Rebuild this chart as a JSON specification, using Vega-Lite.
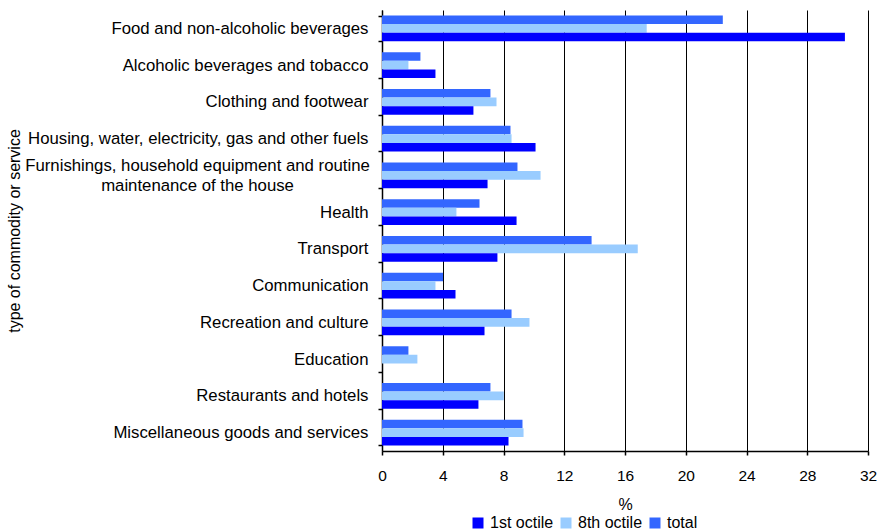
{
  "$schema": "https://vega.github.io/schema/vega-lite/v6.json",
  "width": 486,
  "height": 441,
  "autosize": "none",
  "padding": {"left": 382, "top": 10, "right": 12, "bottom": 79},
  "background": "white",
  "config": {
    "font": "Liberation Sans",
    "view": {"stroke": null},
    "axis": {
      "titleFontWeight": "normal",
      "labelColor": "black",
      "titleColor": "black",
      "domainColor": "black",
      "tickColor": "black",
      "domainWidth": 1.5,
      "tickWidth": 1.5
    }
  },
  "data": {
    "values": [
      {"category": "Food and non-alcoholic beverages", "series": "total", "value": 22.44},
      {"category": "Food and non-alcoholic beverages", "series": "8th octile", "value": 17.43},
      {"category": "Food and non-alcoholic beverages", "series": "1st octile", "value": 30.48},
      {"category": "Alcoholic beverages and tobacco", "series": "total", "value": 2.53},
      {"category": "Alcoholic beverages and tobacco", "series": "8th octile", "value": 1.74},
      {"category": "Alcoholic beverages and tobacco", "series": "1st octile", "value": 3.52},
      {"category": "Clothing and footwear", "series": "total", "value": 7.14},
      {"category": "Clothing and footwear", "series": "8th octile", "value": 7.54},
      {"category": "Clothing and footwear", "series": "1st octile", "value": 6.02},
      {"category": "Housing, water, electricity, gas and other fuels", "series": "total", "value": 8.46},
      {"category": "Housing, water, electricity, gas and other fuels", "series": "8th octile", "value": 8.53},
      {"category": "Housing, water, electricity, gas and other fuels", "series": "1st octile", "value": 10.11},
      {"category": "Furnishings, household equipment and routine maintenance of the house", "series": "total", "value": 8.92},
      {"category": "Furnishings, household equipment and routine maintenance of the house", "series": "8th octile", "value": 10.44},
      {"category": "Furnishings, household equipment and routine maintenance of the house", "series": "1st octile", "value": 6.95},
      {"category": "Health", "series": "total", "value": 6.42},
      {"category": "Health", "series": "8th octile", "value": 4.90},
      {"category": "Health", "series": "1st octile", "value": 8.86},
      {"category": "Transport", "series": "total", "value": 13.80},
      {"category": "Transport", "series": "8th octile", "value": 16.84},
      {"category": "Transport", "series": "1st octile", "value": 7.60},
      {"category": "Communication", "series": "total", "value": 4.02},
      {"category": "Communication", "series": "8th octile", "value": 3.52},
      {"category": "Communication", "series": "1st octile", "value": 4.84},
      {"category": "Recreation and culture", "series": "total", "value": 8.53},
      {"category": "Recreation and culture", "series": "8th octile", "value": 9.71},
      {"category": "Recreation and culture", "series": "1st octile", "value": 6.75},
      {"category": "Education", "series": "total", "value": 1.74},
      {"category": "Education", "series": "8th octile", "value": 2.33},
      {"category": "Restaurants and hotels", "series": "total", "value": 7.14},
      {"category": "Restaurants and hotels", "series": "8th octile", "value": 8.02},
      {"category": "Restaurants and hotels", "series": "1st octile", "value": 6.35},
      {"category": "Miscellaneous goods and services", "series": "total", "value": 9.25},
      {"category": "Miscellaneous goods and services", "series": "8th octile", "value": 9.32},
      {"category": "Miscellaneous goods and services", "series": "1st octile", "value": 8.33}
    ]
  },
  "mark": {"type": "bar"},
  "encoding": {
    "y": {
      "field": "category",
      "type": "nominal",
      "sort": [
        "Food and non-alcoholic beverages",
        "Alcoholic beverages and tobacco",
        "Clothing and footwear",
        "Housing, water, electricity, gas and other fuels",
        "Furnishings, household equipment and routine maintenance of the house",
        "Health",
        "Transport",
        "Communication",
        "Recreation and culture",
        "Education",
        "Restaurants and hotels",
        "Miscellaneous goods and services"
      ],
      "scale": {"paddingInner": 0.3, "paddingOuter": 0.15},
      "axis": {
        "title": "type of commodity or service",
        "titleFontSize": 16,
        "titleX": -368,
        "titleBaseline": "middle",
        "labelFontSize": 16.75,
        "tickBand": "extent",
        "tickSize": 4,
        "labelLimit": 500,
        "labelLineHeight": 20,
        "labelExpr": "datum.value == 'Furnishings, household equipment and routine maintenance of the house' ? ['Furnishings, household equipment and routine', 'maintenance of the house'] : datum.label",
        "labelAlign": {"condition": {"test": "datum.value == 'Furnishings, household equipment and routine maintenance of the house'", "value": "center"}, "value": "right"},
        "labelPadding": {"condition": {"test": "datum.value == 'Furnishings, household equipment and routine maintenance of the house'", "value": 181}, "value": 10},
        "labelOffset": {"condition": {"test": "datum.value == 'Furnishings, household equipment and routine maintenance of the house'", "value": -10}, "value": 0},
        "grid": false
      }
    },
    "yOffset": {
      "field": "series",
      "type": "nominal",
      "sort": ["total", "8th octile", "1st octile"],
      "scale": {"paddingInner": 0, "paddingOuter": 0}
    },
    "x": {
      "field": "value",
      "type": "quantitative",
      "scale": {"domain": [0, 32]},
      "axis": {
        "title": "%",
        "titleFontSize": 16,
        "labelFontSize": 15.5,
        "labelFlush": false,
        "values": [0, 4, 8, 12, 16, 20, 24, 28, 32],
        "grid": true,
        "gridColor": "black",
        "gridOpacity": 1,
        "gridWidth": 1,
        "tickSize": 4,
        "labelPadding": 13,
        "titlePadding": 13
      }
    },
    "color": {
      "field": "series",
      "type": "nominal",
      "scale": {"domain": ["1st octile", "8th octile", "total"], "range": ["#0000FF", "#99CCFF", "#3366FF"]},
      "legend": {
        "title": null,
        "orient": "none",
        "legendX": 88,
        "legendY": 505,
        "direction": "horizontal",
        "symbolType": "square",
        "symbolSize": 121,
        "symbolStrokeWidth": 0,
        "labelFontSize": 16,
        "labelColor": "black",
        "labelOffset": 4,
        "columnPadding": 4
      }
    }
  }
}
